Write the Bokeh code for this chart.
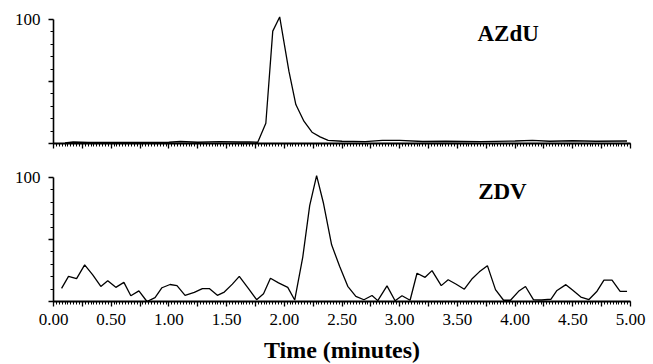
from bokeh.plotting import figure
from bokeh.layouts import column
from bokeh.models import FixedTicker, CustomJSTickFormatter, Label, Range1d
from bokeh.embed import file_html
from bokeh.resources import INLINE

# ---------------- data ----------------
azdu_time = [0.10, 0.17, 0.30, 0.50, 0.75, 1.00, 1.10, 1.25, 1.44, 1.60, 1.70,
             1.77, 1.84, 1.90, 1.96, 2.04, 2.10, 2.17, 2.24, 2.31, 2.38, 2.50,
             2.70, 2.85, 3.00, 3.20, 3.40, 3.70, 4.00, 4.15, 4.30, 4.50, 4.70, 4.97]
azdu_val = [0.5, 1.2, 0.8, 0.8, 0.9, 1.0, 1.6, 1.0, 1.5, 1.2, 1.2,
            1.0, 16.3, 90.6, 102.0, 58.3, 31.4, 18.0, 9.1, 5.3, 2.6, 1.8,
            1.5, 2.6, 2.5, 1.6, 1.8, 1.5, 2.0, 2.6, 1.8, 2.2, 1.8, 2.0]

zdv_time = [0.07, 0.13, 0.20, 0.27, 0.34, 0.41, 0.47, 0.54, 0.61, 0.67,
            0.74, 0.81, 0.88, 0.94, 1.01, 1.07, 1.14, 1.22, 1.29, 1.35,
            1.42, 1.48, 1.55, 1.61, 1.69, 1.76, 1.82, 1.88, 1.95, 2.03,
            2.09, 2.16, 2.22, 2.28, 2.34, 2.41, 2.48, 2.55, 2.62, 2.69,
            2.76, 2.81, 2.89, 2.96, 3.02, 3.09, 3.15, 3.22, 3.28, 3.36,
            3.42, 3.49, 3.56, 3.63, 3.69, 3.76, 3.83, 3.90, 3.96, 4.03,
            4.09, 4.16, 4.23, 4.31, 4.36, 4.44, 4.50, 4.57, 4.64, 4.71,
            4.77, 4.84, 4.91, 4.97]
zdv_val = [10.6, 20.3, 18.4, 29.5, 21.5, 12.1, 16.8, 11.4, 15.4, 4.6,
           8.6, 0.0, 3.1, 11.1, 13.7, 12.8, 5.0, 7.3, 10.4, 10.4,
           5.0, 7.6, 14.0, 20.3, 10.4, 1.5, 6.3, 18.7, 15.0, 11.4,
           1.2, 35.8, 77.3, 101.5, 79.0, 45.7, 28.2, 12.2, 4.2, 1.4,
           4.8, 0.7, 12.6, 0.6, 4.6, 1.0, 22.8, 19.5, 24.9, 12.8,
           17.5, 13.9, 9.9, 18.6, 23.9, 28.9, 9.6, 1.0, 1.0, 8.2,
           12.1, 1.3, 1.2, 1.8, 8.6, 13.6, 9.0, 3.6, 1.6, 8.3,
           17.3, 17.2, 8.1, 8.1]

x_major_ticks = [i * 0.25 for i in range(21)]
x_minor_ticks = [i * 0.025 for i in range(201)]
y_major_ticks = [0, 50, 100]
y_minor_ticks = [10, 20, 30, 40, 60, 70, 80, 90]

panel_names = ["AZdU", "ZDV"]
x_title = "Time (minutes)"

SERIF = "Liberation Serif"


def make_panel(times, vals, name, name_x, border_top, border_bottom, show_x_labels):
    p = figure(frame_width=577, frame_height=129,
               x_range=Range1d(0, 5), y_range=Range1d(0, 104),
               output_backend="svg", toolbar_location=None,
               min_border_left=53, min_border_right=20,
               min_border_top=border_top, min_border_bottom=border_bottom,
               background_fill_color="white", border_fill_color="white")
    p.outline_line_color = None
    p.grid.visible = False

    p.line(times, vals, line_color="black", line_width=1.3)

    # y axis
    ya = p.yaxis[0]
    ya.ticker = FixedTicker(ticks=y_major_ticks, minor_ticks=y_minor_ticks)
    ya.formatter = CustomJSTickFormatter(code="return tick == 100 ? '100' : '';")
    ya.bounds = (0, 100)
    ya.axis_line_color = "black"
    ya.axis_line_width = 1.6
    ya.major_tick_in = 0
    ya.major_tick_out = 5
    ya.minor_tick_in = 0
    ya.minor_tick_out = 3
    ya.major_tick_line_width = 1.4
    ya.minor_tick_line_width = 1.2
    ya.major_label_standoff = 8
    ya.major_label_text_font = SERIF
    ya.major_label_text_font_size = "17px"
    ya.major_label_text_color = "black"

    # x axis
    xa = p.xaxis[0]
    xa.ticker = FixedTicker(ticks=x_major_ticks, minor_ticks=x_minor_ticks)
    xa.axis_line_color = "black"
    xa.axis_line_width = 1.8
    xa.major_tick_in = 0
    xa.major_tick_out = 5
    xa.minor_tick_in = 0
    xa.minor_tick_out = 3
    xa.major_tick_line_width = 1.3
    xa.minor_tick_line_width = 1.0
    xa.major_label_text_font = SERIF
    xa.major_label_text_color = "black"
    if show_x_labels:
        xa.formatter = CustomJSTickFormatter(
            code="return Math.abs(tick*2 - Math.round(tick*2)) < 1e-6 ? tick.toFixed(2) : '';")
        xa.major_label_text_font_size = "17px"
        xa.major_label_standoff = 7
        xa.axis_label = x_title
        xa.axis_label_text_font = SERIF
        xa.axis_label_text_font_style = "bold"
        xa.axis_label_text_font_size = "24px"
        xa.axis_label_text_color = "black"
        xa.axis_label_standoff = 9
    else:
        xa.formatter = CustomJSTickFormatter(code="return '';")
        xa.major_label_text_font_size = "0px"
        xa.major_label_standoff = 0

    p.add_layout(Label(x=name_x, y=88.5, text=name, text_align="center",
                       text_baseline="middle", text_font=SERIF,
                       text_font_style="bold", text_font_size="23px",
                       text_color="black"))
    return p


top = make_panel(azdu_time, azdu_val, panel_names[0], 3.94, 14, 16, False)
bottom = make_panel(zdv_time, zdv_val, panel_names[1], 3.89, 13, 63, True)

layout = column(top, bottom, spacing=0)

open("out.html", "w").write(file_html(layout, INLINE))
